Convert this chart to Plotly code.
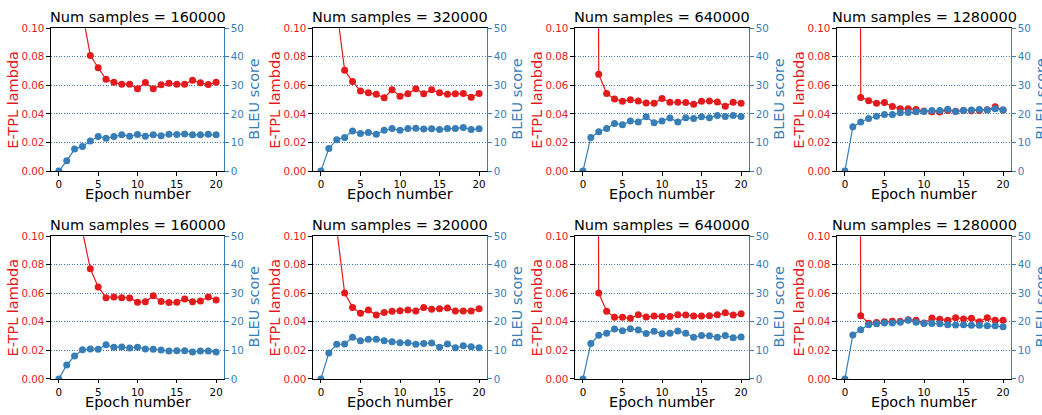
import plotly.graph_objects as go

W, H = 1042, 415
epochs = list(range(21))

titles = ["Num samples = 160000", "Num samples = 320000", "Num samples = 640000", "Num samples = 1280000",
          "Num samples = 160000", "Num samples = 320000", "Num samples = 640000", "Num samples = 1280000"]

lambda_160k_a = [0.9, 0.35, 0.17, 0.111, 0.081, 0.0724, 0.0643, 0.0622, 0.0609, 0.0609, 0.0577,
                 0.062, 0.0577, 0.0604, 0.0615, 0.0609, 0.0609, 0.0636, 0.0618, 0.0606, 0.0622]
bleu_160k_a = [0, 3.6, 7.7, 8.6, 10.5, 12.1, 11.5, 12.1, 12.7, 12.2, 12.8,
               12.2, 12.7, 12.4, 12.9, 12.8, 13.0, 12.7, 12.7, 12.9, 12.7]

lambda_320k_a = [0.8, 0.3, 0.114, 0.0706, 0.0627, 0.0561, 0.0548, 0.0538, 0.0514, 0.057, 0.0525,
                 0.0541, 0.0577, 0.0541, 0.057, 0.0548, 0.0538, 0.0541, 0.0543, 0.0518, 0.0543]
bleu_320k_a = [0, 7.9, 11.0, 11.8, 14.0, 13.2, 13.5, 12.9, 14.3, 14.9, 14.3,
               14.9, 15.0, 14.7, 14.8, 14.6, 14.9, 14.9, 15.3, 14.6, 14.8]

lambda_640k_a = [2.5, 1.6, 0.0679, 0.0543, 0.0505, 0.0489, 0.05, 0.0491, 0.0477, 0.0475, 0.0509,
                 0.0482, 0.0482, 0.048, 0.0468, 0.0489, 0.0491, 0.0484, 0.0455, 0.0482, 0.0475]
bleu_640k_a = [0, 11.8, 13.8, 14.9, 16.7, 16.2, 17.5, 17.2, 19.0, 16.9, 17.5,
               18.6, 17.2, 18.7, 18.4, 19.0, 18.7, 19.5, 19.1, 19.5, 19.1]

lambda_1280k_a = [3.0, 2.0, 0.0516, 0.0493, 0.0475, 0.048, 0.0452, 0.0437, 0.0437, 0.0432, 0.0421,
                  0.0416, 0.0414, 0.0425, 0.0419, 0.0425, 0.0423, 0.0425, 0.043, 0.045, 0.0428]
bleu_1280k_a = [0, 15.5, 17.2, 18.4, 19.2, 19.8, 19.8, 20.4, 20.5, 20.8, 20.9,
                21.2, 21.2, 21.7, 20.9, 21.2, 21.4, 21.6, 21.4, 21.8, 21.4]

lambda_160k_b = [0.6, 0.25, 0.13, 0.104, 0.0771, 0.0644, 0.0569, 0.0574, 0.0569, 0.0567, 0.0537,
                 0.054, 0.0583, 0.0542, 0.0535, 0.0537, 0.056, 0.054, 0.0546, 0.0574, 0.0553]
bleu_160k_b = [0, 4.9, 8.0, 10.2, 10.5, 10.4, 12.0, 11.1, 11.2, 10.8, 11.1,
               10.5, 10.4, 10.1, 9.75, 9.9, 9.9, 9.4, 9.75, 9.75, 9.4]

lambda_320k_b = [0.7, 0.3, 0.105, 0.0601, 0.0501, 0.046, 0.0483, 0.0447, 0.0465, 0.0474, 0.0478,
                 0.0483, 0.0476, 0.0501, 0.0488, 0.0492, 0.0497, 0.0476, 0.0476, 0.0476, 0.0492]
bleu_320k_b = [0, 9.1, 12.1, 12.2, 14.6, 13.4, 13.9, 13.9, 13.4, 13.0, 12.7,
               12.7, 12.1, 12.4, 12.6, 11.1, 12.2, 10.9, 11.6, 11.3, 10.9]

lambda_640k_b = [2.5, 1.5, 0.0601, 0.0474, 0.0431, 0.0431, 0.0424, 0.0449, 0.0433, 0.044, 0.0438,
                 0.0438, 0.0449, 0.0447, 0.044, 0.044, 0.0442, 0.0449, 0.0463, 0.0447, 0.0456]
bleu_640k_b = [0, 12.4, 15.3, 16.0, 17.5, 16.9, 17.6, 17.1, 15.9, 16.7, 15.8,
               16.0, 16.8, 16.0, 14.6, 15.2, 15.1, 14.6, 15.2, 14.4, 14.7]

lambda_1280k_b = [3.0, 2.0, 0.0442, 0.039, 0.0395, 0.0401, 0.0404, 0.0404, 0.0415, 0.041, 0.0392,
                  0.0426, 0.0417, 0.041, 0.0429, 0.042, 0.0424, 0.0401, 0.0429, 0.041, 0.041]
bleu_1280k_b = [0, 15.4, 17.2, 19.0, 19.3, 19.6, 19.6, 19.8, 20.5, 19.8, 19.4,
                19.4, 19.3, 19.0, 18.9, 19.0, 18.8, 18.8, 18.6, 18.6, 18.3]

lambda_series = [lambda_160k_a, lambda_320k_a, lambda_640k_a, lambda_1280k_a,
                 lambda_160k_b, lambda_320k_b, lambda_640k_b, lambda_1280k_b]
bleu_series = [bleu_160k_a, bleu_320k_a, bleu_640k_a, bleu_1280k_a,
               bleu_160k_b, bleu_320k_b, bleu_640k_b, bleu_1280k_b]

lambda_ticks = [0.0, 0.02, 0.04, 0.06, 0.08, 0.10]
bleu_ticks = [0, 10, 20, 30, 40, 50]
epoch_ticks = [0, 5, 10, 15, 20]

RED = "#e41a1c"
BLUE = "#377eb8"
GRID = "#3f7ab4"
FONT = "DejaVu Sans"
LABEL_SIZE = 14.5
TICK_SIZE = 10.3

col_px = [(51, 224), (313, 487), (575, 749), (837, 1011)]
row_px = [(23, 170), (237, 384)]

fig = go.Figure()
annotations = []
layout = {}

for i in range(8):
    r, c = divmod(i, 4)
    x0, x1 = col_px[c]
    t0, t1 = row_px[r]
    xd = [x0 / W, x1 / W]
    yd = [(H - t1) / H, (H - t0) / H]
    xn = i + 1
    yl = 2 * i + 1
    yr = 2 * i + 2
    xkey = "xaxis" if xn == 1 else f"xaxis{xn}"
    ylkey = "yaxis" if yl == 1 else f"yaxis{yl}"
    yrkey = f"yaxis{yr}"
    xref = "x" if xn == 1 else f"x{xn}"
    ylref = "y" if yl == 1 else f"y{yl}"
    yrref = f"y{yr}"

    layout[xkey] = dict(domain=xd, anchor=ylref, range=[-1, 21], tickvals=epoch_ticks,
                        showgrid=False, zeroline=False, showline=True, mirror=True,
                        linecolor="black", linewidth=1.2, ticks="outside", ticklen=3.5,
                        tickwidth=0.9, tickcolor="black",
                        tickfont=dict(family=FONT, size=TICK_SIZE, color="black"))
    layout[ylkey] = dict(domain=yd, anchor=xref, range=[0, 0.1], tickvals=lambda_ticks,
                         tickformat=".2f", showgrid=False, zeroline=False, showline=True,
                         linecolor="black", linewidth=1.2, ticks="outside", ticklen=3.5,
                         tickwidth=0.9, tickcolor="black",
                         tickfont=dict(family=FONT, size=TICK_SIZE, color=RED))
    layout[yrkey] = dict(domain=yd, anchor=xref, overlaying=ylref, side="right",
                         range=[0, 50], tickvals=bleu_ticks, showgrid=True, gridcolor=GRID,
                         griddash="1px,1.6px", gridwidth=1, zeroline=False, showline=True,
                         linecolor=BLUE, linewidth=1.2, ticks="outside", ticklen=3.5,
                         tickwidth=0.9, tickcolor=BLUE,
                         tickfont=dict(family=FONT, size=TICK_SIZE, color=BLUE))

    fig.add_trace(go.Scatter(x=epochs, y=lambda_series[i], xaxis=xref, yaxis=ylref,
                             mode="lines+markers", line=dict(color=RED, width=1.2),
                             marker=dict(color=RED, size=7), cliponaxis=True,
                             showlegend=False))
    fig.add_trace(go.Scatter(x=epochs, y=bleu_series[i], xaxis=xref, yaxis=yrref,
                             mode="lines+markers", line=dict(color=BLUE, width=1.2),
                             marker=dict(color=BLUE, size=7), cliponaxis=True,
                             showlegend=False))

    cx = (x0 + x1) / 2 / W
    annotations.append(dict(text=titles[i], x=cx, y=(H - (t0 - 11.4)) / H, xref="paper", yref="paper",
                            xanchor="center", yanchor="middle", align="center", showarrow=False,
                            font=dict(family=FONT, size=LABEL_SIZE, color="black")))
    annotations.append(dict(text="Epoch number", x=cx, y=(H - (t1 + 23.6)) / H, xref="paper", yref="paper",
                            xanchor="center", yanchor="middle", align="center", showarrow=False,
                            font=dict(family=FONT, size=LABEL_SIZE, color="black")))
    cy = (H - (t0 + t1) / 2) / H
    annotations.append(dict(text="E-TPL lambda", x=(x0 - 38) / W, y=cy, xref="paper", yref="paper",
                            xanchor="center", yanchor="middle", textangle=-90, showarrow=False,
                            font=dict(family=FONT, size=LABEL_SIZE, color=RED)))
    annotations.append(dict(text="BLEU score", x=(x1 + 30) / W, y=cy, xref="paper", yref="paper",
                            xanchor="center", yanchor="middle", textangle=-90, showarrow=False,
                            font=dict(family=FONT, size=LABEL_SIZE, color=BLUE)))

fig.update_layout(width=W, height=H, margin=dict(l=0, r=0, t=0, b=0),
                  paper_bgcolor="white", plot_bgcolor="white",
                  font=dict(family=FONT), annotations=annotations, **layout)

fig.write_html("out.html", config={"displayModeBar": False},
               post_script="document.body.style.margin='0';document.body.style.padding='0';"
                           "document.documentElement.style.overflow='hidden';")
